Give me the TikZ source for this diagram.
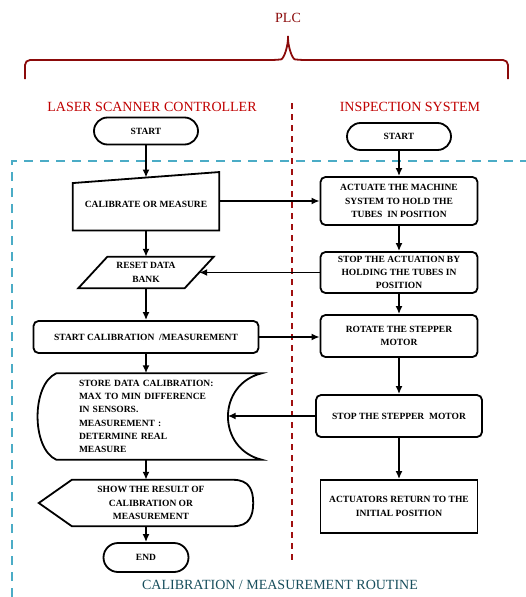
\documentclass[tikz,border=0pt]{standalone}
\usepackage{fontspec}
\setmainfont{Liberation Serif}
\usetikzlibrary{shapes.misc,calc,arrows.meta}
\definecolor{plcred}{HTML}{8B0A0A}
\definecolor{headred}{HTML}{C00000}
\definecolor{lanered}{HTML}{A01010}
\definecolor{routinecyan}{HTML}{4BACC6}
\definecolor{routineteal}{HTML}{174E5C}
\newcommand\boxfont{\bfseries\fontsize{9.5}{13.3}\selectfont}
\newcommand\headfont{\fontsize{14}{16}\selectfont}
\tikzset{
  box/.style={draw, line width=1.8pt, rounded corners=5pt, inner sep=2pt, align=center, font=\boxfont},
  term/.style={draw, rounded rectangle, line width=1.8pt, inner sep=2pt, font=\boxfont},
  ghost/.style={inner sep=0pt, align=center, font=\boxfont},
  outline/.style={line width=1.8pt},
  flow/.style={->, line width=1.6pt},
}
\begin{document}
\begin{tikzpicture}[x=1pt,y=-1pt,>={Latex[length=8pt,width=7pt]}]
		\useasboundingbox (0,0) rectangle (526,597);
		\node[text=plcred, font=\headfont] (plc) at (288,18) {PLC};
		\node[text=headred, font=\headfont] (lsc) at (152,107) {LASER SCANNER CONTROLLER};
		\node[text=headred, font=\headfont] (ins) at (410,107) {INSPECTION SYSTEM};
		\node[text=routineteal, font=\headfont] (rout) at (280,585) {CALIBRATION / MEASUREMENT ROUTINE};
		\draw[plcred, line width=1.8pt, rounded corners=5pt] (25,79) -- (25,60) -- (276,60) .. controls (284,59) and (288,46) .. (288,33) .. controls (288,46) and (292,59) .. (300,60) -- (508,60) -- (508,79);
		\draw[lanered, line width=1.5pt, dash pattern=on 6pt off 5pt] (292,103) -- (292,562);
		\draw[routinecyan, line width=1.6pt, dash pattern=on 9pt off 7pt] (12,597) -- (12,161) -- (526,161);
		
		\node[term, minimum width=108pt, minimum height=27pt] (s1) at (146,131) {START};
		\node[ghost, minimum width=146pt, minimum height=52.5pt] (cal) at (146,204) {CALIBRATE OR MEASURE};
		\draw[outline] (cal.south west) -- ($(cal.north west)+(0,5.5)$) -- ($(cal.north east)+(0,-5.5)$) -- (cal.south east) -- cycle;
		\node[ghost, minimum width=106pt, minimum height=31pt] (rst) at (146,272.5) {RESET DATA\\BANK};
		\draw[outline] ($(rst.north west)+(14.5,0)$) -- ($(rst.north east)+(14.5,0)$) -- ($(rst.south east)+(-14.5,0)$) -- ($(rst.south west)+(-14.5,0)$) -- cycle;
		\node[box, minimum width=225pt, minimum height=32pt] (scal) at (146,337) {START CALIBRATION \ /MEASUREMENT};
		\node[ghost, minimum width=225pt, minimum height=86pt, text width=140pt, align=left] (sto) at (149,416.5) {STORE DATA CALIBRATION:\\MAX TO MIN DIFFERENCE\\IN SENSORS.\\MEASUREMENT :\\DETERMINE REAL\\MEASURE};
		\draw[outline] ($(sto.north west)+(20,0)$) -- (sto.north east) .. controls ($(sto.north east)+(-45,11)$) and ($(sto.south east)+(-45,-11)$) .. (sto.south east) -- ($(sto.south west)+(20,0)$) .. controls ($(sto.south west)+(-5,-11)$) and ($(sto.north west)+(-5,11)$) .. cycle;
		\coordinate (stoin) at ($(sto.east)+(-34,0)$);
		\node[ghost, minimum width=214pt, minimum height=46pt] (shw) at (146,503) {\hspace{10pt}SHOW THE RESULT OF\\\hspace{10pt}CALIBRATION OR\\\hspace{10pt}MEASUREMENT};
		\draw[outline] (shw.west) -- ($(shw.north west)+(33,0)$) -- ($(shw.north east)+(-20,0)$) .. controls ($(shw.north east)+(-4,0)$) and ($(shw.east)+(0,-13)$) .. (shw.east) .. controls ($(shw.east)+(0,13)$) and ($(shw.south east)+(-4,0)$) .. ($(shw.south east)+(-20,0)$) -- ($(shw.south west)+(33,0)$) -- cycle;
		\node[term, minimum width=89pt, minimum height=29pt] (e1) at (146,557.5) {END};
		
		\node[term, minimum width=108pt, minimum height=27pt] (s2) at (399,136.5) {START};
		\node[box, minimum width=157pt, minimum height=48pt] (act) at (399,201) {ACTUATE THE MACHINE\\SYSTEM TO HOLD THE\\TUBES \ IN POSITION};
		\node[box, minimum width=157pt, minimum height=41pt] (stact) at (399,272.5) {STOP THE ACTUATION BY\\HOLDING THE TUBES IN\\POSITION};
		\node[box, minimum width=157pt, minimum height=42pt] (rot) at (399,336) {ROTATE THE STEPPER\\MOTOR};
		\node[box, minimum width=166pt, minimum height=42pt] (stst) at (399,416) {STOP THE STEPPER \ MOTOR};
		\node[box, rounded corners=0pt, minimum width=157pt, minimum height=53pt] (ret) at (399,506.5) {ACTUATORS RETURN TO THE\\INITIAL POSITION};
		
		\draw[flow] (s1.south) -- (cal.north);
		\draw[flow] (cal.south) -- (rst.north);
		\draw[flow] (rst.south) -- (scal.north);
		\draw[flow] (scal.south) -- (scal.south |- sto.north);
		\draw[flow] (scal.south |- sto.south) -- (shw.north);
		\draw[flow] (shw.south) -- (e1.north);
		\draw[flow] (s2.south) -- (act.north);
		\draw[flow] (act.south) -- (stact.north);
		\draw[flow] (stact.south) -- (rot.north);
		\draw[flow] (rot.south) -- (stst.north);
		\draw[flow] (stst.south) -- (ret.north);
		\draw[flow] (act.west -| cal.east) -- (act.west);
		\draw[flow] (stact.west) -- (rst.east);
		\draw[flow] (scal.east) -- (scal.east -| rot.west);
		\draw[flow] (stst.west) -- (stst.west -| stoin);
\end{tikzpicture}
\end{document}
